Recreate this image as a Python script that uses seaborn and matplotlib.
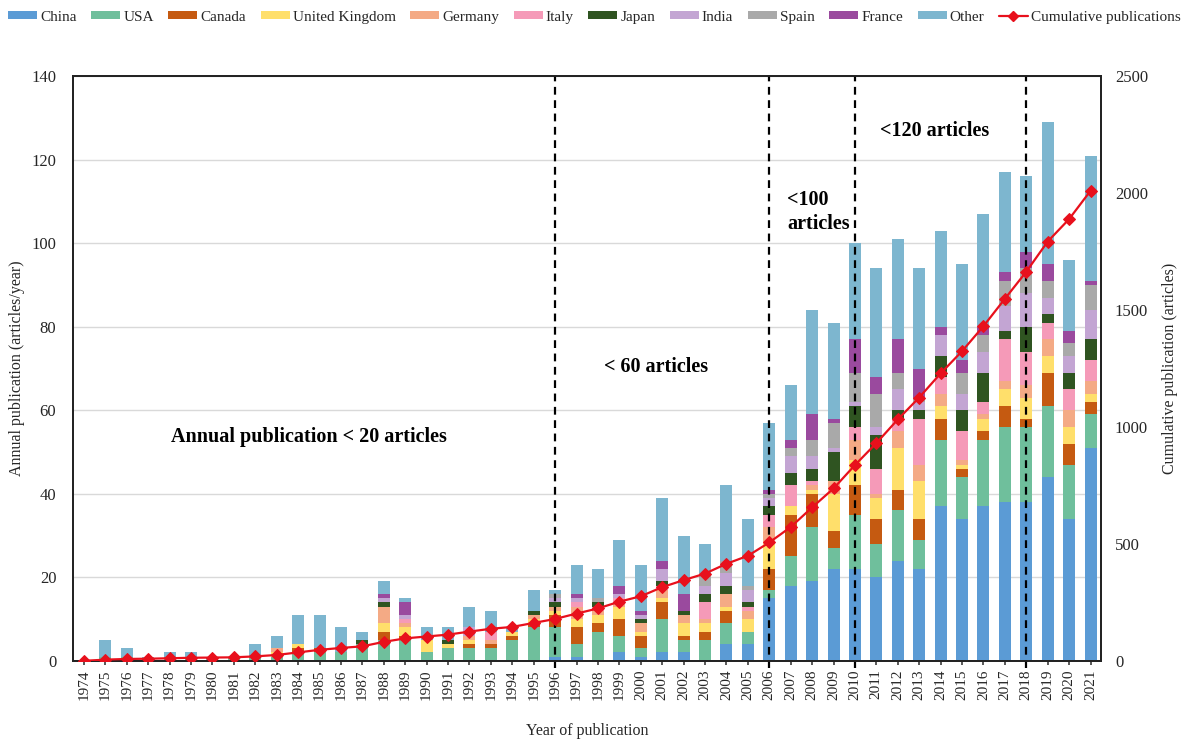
import numpy as np
import pandas as pd
import matplotlib
matplotlib.use("Agg")
import matplotlib.pyplot as plt
from matplotlib.patches import Patch
from matplotlib.lines import Line2D
import seaborn as sns

# ---- data: annual publications per country, 1974-2021 ----
years = list(range(1974, 2022))

china = [0, 0, 0, 0, 0, 0, 0, 0, 0, 0, 0, 0, 0, 0, 0, 0, 0, 0, 0, 0, 0, 0,
         1, 1, 0, 2, 1, 2, 2, 0, 4, 4, 15, 18, 19, 22, 22, 20, 24, 22, 37, 34,
         37, 38, 38, 44, 34, 51]
usa = [0, 1, 1, 0, 1, 1, 0, 1, 1, 1, 2, 2, 2, 4, 5, 5, 2, 3, 3, 3, 5, 8,
       7, 3, 7, 4, 2, 8, 3, 5, 5, 3, 2, 7, 13, 5, 13, 8, 12, 7, 16, 10,
       16, 18, 18, 17, 13, 8]
canada = [0, 0, 0, 0, 0, 0, 0, 0, 0, 0, 1, 1, 0, 0, 2, 1, 0, 0, 1, 1, 1, 1,
          3, 4, 2, 4, 3, 4, 1, 2, 3, 0, 5, 10, 8, 4, 7, 6, 5, 5, 5, 2,
          2, 5, 2, 8, 5, 3]
uk = [0, 0, 0, 0, 0, 0, 0, 0, 0, 1, 1, 0, 0, 0, 2, 2, 3, 1, 1, 0, 1, 1,
      1, 2, 2, 3, 1, 1, 3, 2, 1, 3, 6, 2, 1, 9, 6, 5, 10, 9, 3, 1,
      3, 4, 5, 4, 4, 2]
germany = [0, 0, 0, 0, 0, 0, 0, 0, 0, 1, 0, 0, 0, 0, 4, 1, 0, 0, 1, 1, 0, 1,
           1, 3, 1, 1, 2, 2, 2, 1, 3, 2, 4, 0, 1, 3, 5, 1, 4, 4, 3, 1,
           1, 2, 3, 4, 4, 3]
italy = [0, 0, 0, 0, 0, 0, 0, 0, 0, 0, 0, 0, 0, 0, 0, 1, 0, 0, 0, 2, 0, 0,
         0, 1, 1, 1, 0, 1, 0, 4, 0, 1, 3, 5, 1, 0, 3, 6, 3, 11, 4, 7,
         3, 10, 8, 4, 5, 5]
japan = [0, 0, 0, 0, 0, 0, 0, 0, 0, 0, 0, 0, 0, 1, 1, 0, 0, 1, 0, 0, 0, 1,
         1, 0, 1, 0, 1, 1, 1, 2, 2, 1, 2, 3, 3, 7, 5, 8, 2, 2, 5, 5,
         7, 2, 6, 2, 4, 5]
india = [0, 0, 0, 0, 0, 0, 0, 0, 0, 0, 0, 0, 0, 0, 1, 1, 0, 0, 2, 0, 0, 0,
         1, 1, 0, 1, 1, 3, 0, 2, 3, 3, 2, 4, 3, 1, 1, 2, 5, 2, 5, 4,
         5, 6, 8, 4, 4, 7]
spain = [0, 0, 0, 0, 0, 0, 0, 0, 0, 0, 0, 0, 0, 0, 0, 0, 0, 0, 0, 0, 0, 0,
         1, 0, 1, 0, 0, 0, 0, 3, 3, 1, 1, 2, 4, 6, 7, 8, 4, 1, 0, 5,
         4, 6, 6, 4, 3, 6]
france = [0, 0, 0, 0, 0, 0, 0, 0, 0, 0, 0, 0, 0, 0, 1, 3, 0, 0, 0, 0, 0, 0,
          0, 1, 0, 2, 1, 2, 4, 0, 0, 0, 1, 2, 6, 1, 8, 4, 8, 7, 2, 3,
          2, 2, 4, 4, 3, 1]
other = [0, 4, 2, 1, 1, 1, 1, 0, 3, 3, 7, 8, 6, 2, 3, 1, 3, 3, 5, 5, 1, 5,
         1, 7, 7, 11, 11, 15, 14, 7, 18, 16, 16, 13, 25, 23, 23, 26, 24, 24, 23, 23,
         27, 24, 18, 34, 17, 30]

# running total of publications (right axis)
cumulative = [0, 5, 8, 9, 11, 13, 14, 15, 19, 25, 36, 47, 55, 62, 81, 96, 104, 112,
              125, 137, 145, 162, 179, 202, 224, 253, 276, 315, 345, 373, 415, 449,
              506, 572, 656, 737, 837, 931, 1032, 1126, 1229, 1324, 1431, 1548,
              1664, 1793, 1889, 2010]

countries = ["China", "USA", "Canada", "United Kingdom", "Germany", "Italy",
             "Japan", "India", "Spain", "France", "Other"]
series = [china, usa, canada, uk, germany, italy, japan, india, spain, france, other]
colors = ["#5b9bd5", "#6fbf9c", "#c55a11", "#ffdf6b", "#f4aa85", "#f59ab8",
          "#2f5421", "#c3a5d3", "#a9a9a9", "#9a4a9e", "#7db6cf"]

period_bounds = [1996, 2006, 2010, 2018]

# ---- long-form table for seaborn ----
long = pd.DataFrame({
    "year": np.tile(years, len(countries)),
    "country": np.repeat(countries, len(years)),
    "count": np.concatenate([np.asarray(s, dtype=float) for s in series]),
})

sns.set_theme(style="white")
plt.rcParams["font.family"] = ["Liberation Serif", "DejaVu Serif"]

fig = plt.figure(figsize=(11.89, 7.40), dpi=100)
ax = fig.add_axes([0.0614, 0.107, 0.8646, 0.790])

palette = dict(zip(countries, colors))
# seaborn stacks the first hue level on top, so pass the order reversed
sns.histplot(data=long, x="year", weights="count", hue="country",
             hue_order=countries[::-1], palette=palette, multiple="stack",
             discrete=True, shrink=0.56, linewidth=0, alpha=1,
             legend=False, ax=ax, zorder=2)

ax.set_xlim(1973.49, 2021.49)
ax.set_ylim(0, 140)
ax.set_yticks(range(0, 141, 20))
ax.set_xticks(years)
ax.set_xticklabels([str(y) for y in years], rotation=90, fontsize=11)
ax.tick_params(axis="y", labelsize=12, length=0, pad=12)
ax.tick_params(axis="x", length=3, color="#444444", pad=3, direction="out", bottom=True)
ax.yaxis.grid(True, color="#d9d9d9", linewidth=1.0, zorder=0)
ax.set_axisbelow(True)
ax.set_xlabel("Year of publication", fontsize=11.5, labelpad=17)
ax.set_ylabel("Annual publication (articles/year)", fontsize=11.5)
ax.yaxis.set_label_coords(-0.047, 0.5)
for sp in ax.spines.values():
    sp.set_color("#222222")
    sp.set_linewidth(1.3)

# period boundaries
for yb in period_bounds:
    ax.axvline(yb, ymin=-0.013, ymax=1, color="black", linestyle=(0, (3.5, 2.5)),
               linewidth=1.6, clip_on=False, zorder=6)

# cumulative publications on the secondary axis
ax2 = ax.twinx()
sns.lineplot(x=years, y=cumulative, ax=ax2, color="#e8101c", linewidth=1.6,
             marker="D", markersize=6, markeredgecolor="#e8101c", zorder=7)
ax2.set_ylim(0, 2500)
ax2.set_yticks(range(0, 2501, 500))
ax2.tick_params(axis="y", labelsize=12, length=0, pad=10)
ax2.set_ylabel("Cumulative publication (articles)", fontsize=11.5, labelpad=10)
ax2.grid(False)
for sp in ax2.spines.values():
    sp.set_color("#222222")
    sp.set_linewidth(1.3)

# period annotations
bold = dict(fontweight="bold", fontsize=14.5, color="black")
ax.text(1984.5, 53.5, "Annual publication < 20 articles", ha="center", va="center", **bold)
ax.text(2000.7, 70.3, "< 60 articles", ha="center", va="center", **bold)
ax.text(2006.85, 107.5, "<100\narticles", ha="left", va="center", linespacing=1.25, **bold)
ax.text(2011.15, 126.8, "<120 articles", ha="left", va="center", **bold)

# legend across the top
handles = [Patch(facecolor=c, edgecolor="none", label=n) for n, c in zip(countries, colors)]
handles.append(Line2D([0], [0], color="#e8101c", linewidth=1.6, marker="D",
                      markersize=5, label="Cumulative publications"))
fig.legend(handles=handles, loc="upper center", bbox_to_anchor=(0.5, 1.0),
           ncol=len(handles), frameon=False, fontsize=11, handlelength=1.9,
           handleheight=0.45, handletextpad=0.2, columnspacing=0.95,
           borderaxespad=0.3)

fig.savefig("out.png", dpi=100)
